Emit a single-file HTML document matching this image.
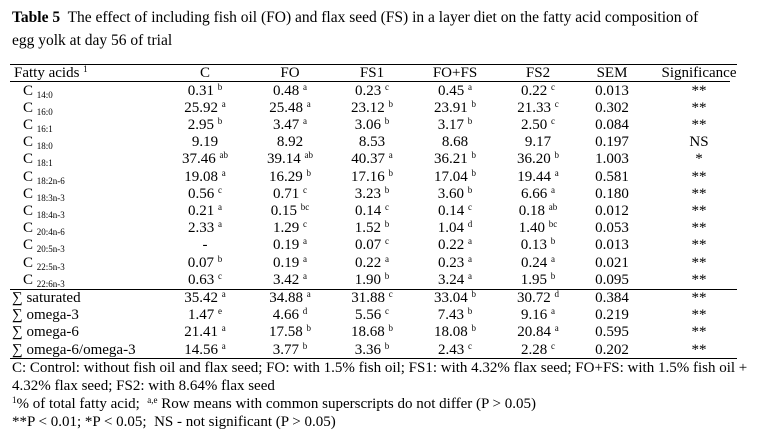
<!DOCTYPE html>
<html><head><meta charset="utf-8"><style>
body{margin:0;background:#fff;width:761px;height:430px;overflow:hidden;font-family:"Liberation Serif",serif;color:#000;position:relative}
.t{position:absolute;font-size:15px;white-space:nowrap;line-height:16px}
.c{position:absolute;font-size:15px;white-space:nowrap;transform:translateX(-50%);line-height:16px}
sup{font-size:9px;vertical-align:5px;line-height:0}
sub{font-size:9px;vertical-align:-3px;line-height:0}
.hl{position:absolute;left:10px;width:727px;height:1px;background:#000}
</style></head><body>
<div class="t" style="left:12px;top:6px;font-size:15.5px;line-height:23px;white-space:normal;width:700px"><b>Table 5</b>&nbsp; The effect of including fish oil (FO) and flax seed (FS) in a layer diet on the fatty acid composition of egg yolk at day 56 of trial</div>
<div class="hl" style="top:64px"></div>
<div class="hl" style="top:81px;width:720px"></div>
<div class="hl" style="top:289px"></div>
<div class="hl" style="top:358px"></div>
<div id="tbl"></div>
<div class="t" style="left:12px;top:359px;font-size:15px;line-height:18px;white-space:normal;width:748px">C: Control: without fish oil and flax seed; FO: with 1.5% fish oil; FS1: with 4.32% flax seed; FO+FS: with 1.5% fish oil + 4.32% flax seed; FS2: with 8.64% flax seed</div>
<div class="t" style="left:12px;top:395px;font-size:15px;line-height:18px"><sup>1</sup>% of total fatty acid;&nbsp; <sup>a,e</sup> Row means with common superscripts do not differ (P &gt; 0.05)</div>
<div class="t" style="left:12px;top:413px;font-size:15px;line-height:18px">**P &lt; 0.01; *P &lt; 0.05;&nbsp; NS - not significant (P &gt; 0.05)</div>
<script>
const colX=[205,290,372,455,538,612,699];
const headers=["C","FO","FS1","FO+FS","FS2","SEM","Significance"];
const rows=[
["C","14:0",["0.31","b"],["0.48","a"],["0.23","c"],["0.45","a"],["0.22","c"],"0.013","**"],
["C","16:0",["25.92","a"],["25.48","a"],["23.12","b"],["23.91","b"],["21.33","c"],"0.302","**"],
["C","16:1",["2.95","b"],["3.47","a"],["3.06","b"],["3.17","b"],["2.50","c"],"0.084","**"],
["C","18:0",["9.19",""],["8.92",""],["8.53",""],["8.68",""],["9.17",""],"0.197","NS"],
["C","18:1",["37.46","ab"],["39.14","ab"],["40.37","a"],["36.21","b"],["36.20","b"],"1.003","*"],
["C","18:2n-6",["19.08","a"],["16.29","b"],["17.16","b"],["17.04","b"],["19.44","a"],"0.581","**"],
["C","18:3n-3",["0.56","c"],["0.71","c"],["3.23","b"],["3.60","b"],["6.66","a"],"0.180","**"],
["C","18:4n-3",["0.21","a"],["0.15","bc"],["0.14","c"],["0.14","c"],["0.18","ab"],"0.012","**"],
["C","20:4n-6",["2.33","a"],["1.29","c"],["1.52","b"],["1.04","d"],["1.40","bc"],"0.053","**"],
["C","20:5n-3",["-",""],["0.19","a"],["0.07","c"],["0.22","a"],["0.13","b"],"0.013","**"],
["C","22:5n-3",["0.07","b"],["0.19","a"],["0.22","a"],["0.23","a"],["0.24","a"],"0.021","**"],
["C","22:6n-3",["0.63","c"],["3.42","a"],["1.90","b"],["3.24","a"],["1.95","b"],"0.095","**"],
["∑ saturated","",["35.42","a"],["34.88","a"],["31.88","c"],["33.04","b"],["30.72","d"],"0.384","**"],
["∑ omega-3","",["1.47","e"],["4.66","d"],["5.56","c"],["7.43","b"],["9.16","a"],"0.219","**"],
["∑ omega-6","",["21.41","a"],["17.58","b"],["18.68","b"],["18.08","b"],["20.84","a"],"0.595","**"],
["∑ omega-6/omega-3","",["14.56","a"],["3.77","b"],["3.36","b"],["2.43","c"],["2.28","c"],"0.202","**"]];
const tb=document.getElementById('tbl');
function add(cls,x,y,html,name){const d=document.createElement('div');d.className=cls;d.style.left=x+'px';d.style.top=y+'px';d.innerHTML=html;


tb.appendChild(d);}
add('t',14,65,'Fatty acids <sup>1</sup>','header-fatty-acids');
headers.forEach((h,i)=>add('c',colX[i],65,h,'header-'+h.toLowerCase().replace(/[^a-z0-9]/g,'')));
rows.forEach((r,j)=>{
 const y= j<12 ? 82.5+j*17.2 : 290+(j-12)*17.2;
 const lbl = r[1] ? 'C <sub>'+r[1]+'</sub>' : r[0];
 add('t', r[1]?23:12, y, lbl, 'row-label');
 for(let k=0;k<5;k++){const v=r[2+k];add('c',colX[k],y,v[0]+(v[1]?' <sup>'+v[1]+'</sup>':''),'cell-value');}
 add('c',colX[5],y,r[7],'cell-sem');
 add('c',colX[6],y,r[8],'cell-significance');
});
</script>
</body></html>
